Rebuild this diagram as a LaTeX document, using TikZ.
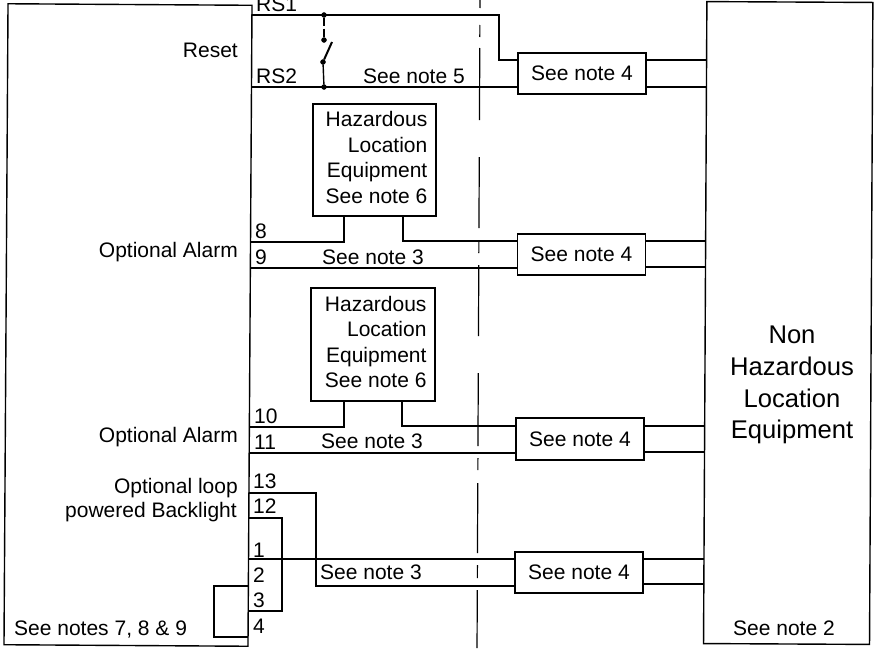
\documentclass[tikz,border=0pt]{standalone}
\usepackage{fontspec}
\setmainfont{Liberation Sans}
\tikzset{
	wire/.style = {line width = 1.4pt},
	box/.style = {draw, line width = 1.4pt, inner sep = 0pt},
	lbl/.style = {inner sep = 0pt, font = \fontsize{21}{25.5}\selectfont},
	dot/.style = {draw, fill, shape = circle, minimum size = 5pt, inner sep = 0pt}
}
\begin{document}
\begin{tikzpicture}[x = 1pt, y = -1pt]
\useasboundingbox (0, 0) rectangle (874, 653);

\node at (128, 325)[box, rotate = -0.36, minimum width = 244, minimum height = 641](LB){};
\node at (788.2, 323)[box, rotate = -0.3, minimum width = 166, minimum height = 642](RB){};

\node at (582, 73.5)[box, lbl, minimum width = 128, minimum height = 41](B1){See note 4};
\node at (581.5, 254.5)[box, lbl, minimum width = 128, minimum height = 41](B2){See note 4};
\node at (580, 439)[box, lbl, minimum width = 128, minimum height = 42](B3){See note 4};
\node at (579, 572.5)[box, lbl, minimum width = 128, minimum height = 41](B4){See note 4};

\node at (374.5, 160)[box, minimum width = 123, minimum height = 112](HZ1){};
\node at (373, 344.5)[box, minimum width = 124, minimum height = 113](HZ2){};
\node at (376.5, 157.5)[lbl, align = right](HT1){Hazardous\\Location\\Equipment\\See note 6};
\node at (375.7, 342)[lbl, align = right](HT2){Hazardous\\Location\\Equipment\\See note 6};

% terminals on the left box
\foreach \t/\y in {RS1/15, RS2/87, 8/242, 9/268, 10/427, 11/453, 13/493, 12/518, 1/559, 2/586, 3/611, 4/637}
	\coordinate (T\t) at (252-\y*0.0062, \y);

% ends on the right box
\foreach \i/\y in {1/60, 2/87, 3/241, 4/267, 5/426, 6/452, 7/559, 8/584}
	\coordinate (E\i) at (707-\y*0.005, \y);

\foreach \i/\b in {1/B1, 2/B1, 3/B2, 4/B2, 5/B3, 6/B3, 7/B4, 8/B4}
	\draw[wire] (\b.east |- E\i) -- (E\i);

% reset
\node at (324, 15)[dot](D1){};
\node at (324, 40)[dot](D2){};
\node at (323, 62)[dot](D3){};
\node at (324, 87)[dot](D4){};
\coordinate (BL) at (332, 42);
\coordinate (RS1a) at (499, 15);
\coordinate (RS1b) at (499, 60);
\draw[wire] (TRS1) -- (RS1a) -- (RS1b) -- (RS1b -| B1.west);
\draw[wire] (TRS2) -- (TRS2 -| B1.west);
\draw[wire, dash pattern = on 8pt off 3pt] (D1) -- (D2);
\draw[wire] (D3) -- (D4);
\draw[line width = 2pt] (D3) -- (BL);

% alarms
\draw[wire] ([xshift = -30.5]HZ1.south) |- (T8);
\draw[wire] ([xshift = 28.5]HZ1.south) |- (E3 -| B2.west);
\draw[wire] (T9) -- (T9 -| B2.west);
\draw[wire] ([xshift = -29]HZ2.south) |- (T10);
\draw[wire] ([xshift = 29]HZ2.south) |- (E5 -| B3.west);
\draw[wire] (T11) -- (T11 -| B3.west);

% backlight and loop
\coordinate (LP1) at (316, 493);
\coordinate (LP2) at (316, 586);
\coordinate (BK1) at (282, 518);
\coordinate (BK2) at (282, 611);
\coordinate (JP1) at (214, 586);
\coordinate (JP2) at (214, 637);
\draw[wire] (T13) -- (LP1) -- (LP2) -- (LP2 -| B4.west);
\draw[wire] (T12) -- (BK1) -- (BK2) -- (T3);
\draw[wire] (T1) -- (T1 -| B4.west);
\draw[wire] (T2) -- (JP1) -- (JP2) -- (T4);

% centre line
\foreach \a/\b in {0/8, 25/37, 48/120, 157/228, 240/253, 265/336, 373/446, 458/470, 483/553, 565/578, 590/648}
	\draw[line width = 1.2pt] (480-\a*0.0046, \a) -- (480-\b*0.0046, \b);

% texts on the left box
\foreach \n/\x/\y/\txt in {a/238/57/Reset, b/238/257/Optional Alarm, c/238/442/Optional Alarm, d/238/493/Optional loop, e/237/517/powered Backlight}
	\node at (\x, \y)[lbl, anchor = base east](L\n){\txt};
\node at (14, 635)[lbl, anchor = base west](Ln){See notes 7, 8 \& 9};

% terminal numbers
\foreach \n/\x/\y in {RS1/256/12, RS2/256/83, 8/255/238, 9/255/264, 10/254/423, 11/254/449, 13/253/488, 12/253/513, 1/253/557, 2/253/582, 3/253/607, 4/253/633}
	\node at (\x, \y)[lbl, anchor = base west](N\n){\n};

% notes on the wires
\node at (363, 83)[lbl, anchor = base west](S5){See note 5};
\node at (322, 264)[lbl, anchor = base west](S3a){See note 3};
\node at (321, 448)[lbl, anchor = base west](S3b){See note 3};
\node at (320, 579)[lbl, anchor = base west](S3c){See note 3};

% right box
\node at (792, 385)[lbl, align = center, font = \fontsize{25.6}{31.7}\selectfont](RT){Non\\Hazardous\\Location\\Equipment};
\node at (733, 635)[lbl, anchor = base west](RN){See note 2};
\end{tikzpicture}
\end{document}
